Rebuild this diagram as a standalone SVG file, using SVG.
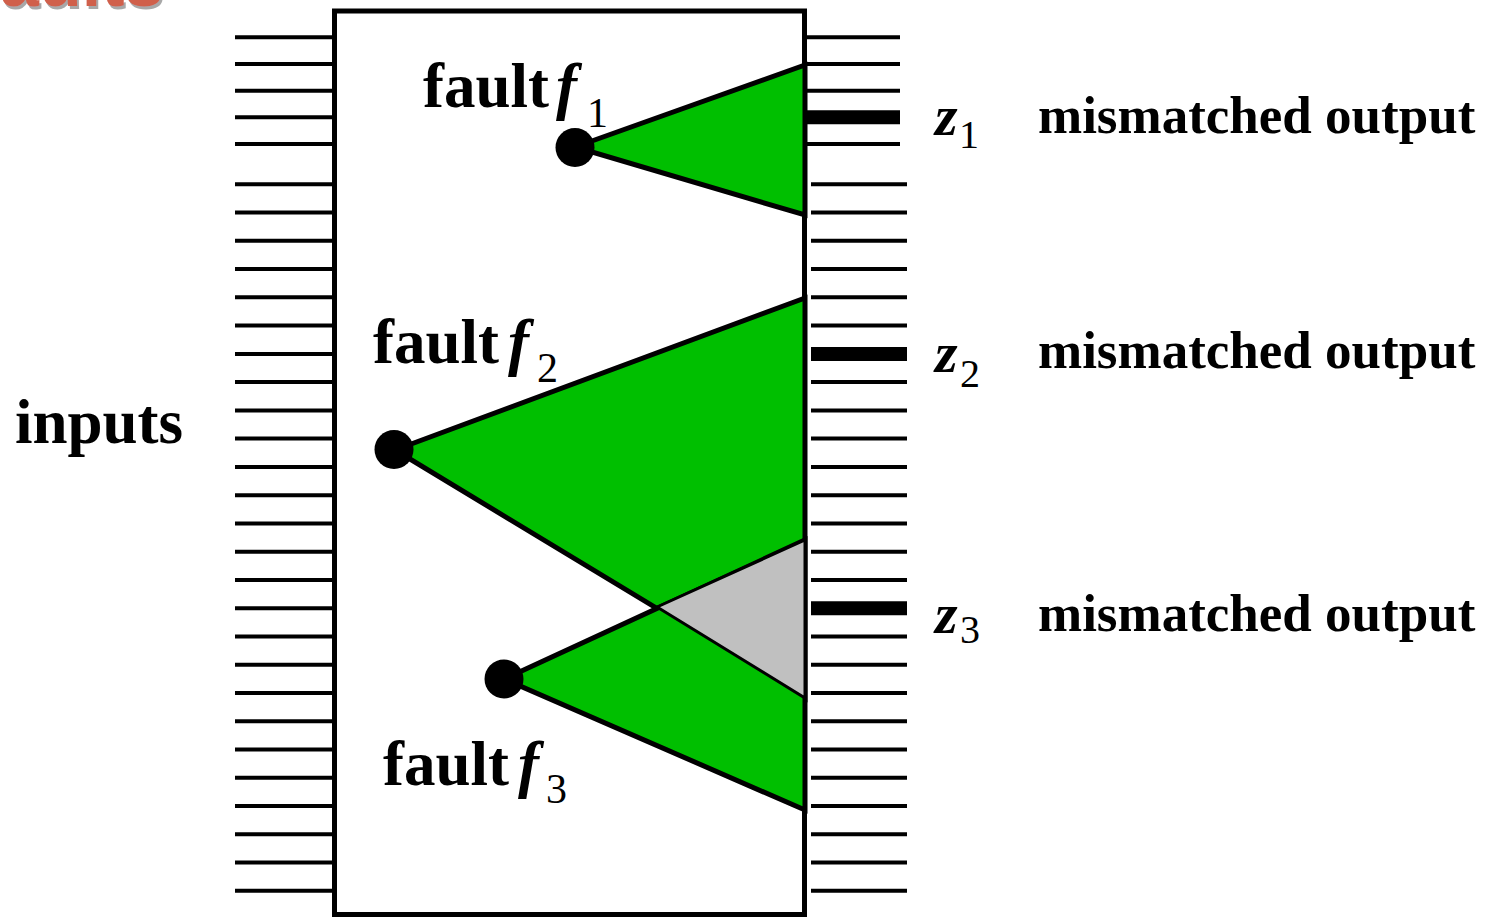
<svg xmlns="http://www.w3.org/2000/svg" width="1486" height="919" viewBox="0 0 1486 919">
<defs>
<filter id="shadow" x="-10%" y="-10%" width="130%" height="150%">
<feFlood flood-color="#a8a8a8" result="c"/>
<feComposite in="c" in2="SourceAlpha" operator="in" result="s"/>
<feOffset in="s" dx="2" dy="3" result="o"/>
<feMerge><feMergeNode in="o"/><feMergeNode in="SourceGraphic"/></feMerge>
</filter>
</defs>
<style>
.wire{stroke:#000;stroke-width:4;}
.thick{stroke:#000;stroke-width:14;}
.cone{fill:#00bf00;stroke:#000;stroke-width:5;stroke-linejoin:miter;}
.overlap{fill:#c0c0c0;stroke:#000;stroke-width:3;}
.lbl{font-family:'Liberation Serif',serif;font-weight:bold;fill:#000;}
.it{font-family:'Liberation Serif',serif;font-style:italic;font-weight:bold;fill:#000;}
.sub{font-family:'Liberation Serif',serif;font-weight:normal;fill:#000;}
</style>
<rect width="1486" height="919" fill="#fff"/>
<g id="title">
<text x="0" y="6" font-family="'Liberation Sans',sans-serif" font-weight="bold" font-size="70" fill="#d0604c" filter="url(#shadow)">aults</text>
</g>
<g id="connectors">
<g id="inputs-wires">
<line class="wire" x1="235" y1="37.3" x2="332" y2="37.3"/>
<line class="wire" x1="235" y1="64" x2="332" y2="64"/>
<line class="wire" x1="235" y1="90.7" x2="332" y2="90.7"/>
<line class="wire" x1="235" y1="117.3" x2="332" y2="117.3"/>
<line class="wire" x1="235" y1="144" x2="332" y2="144"/>
<line class="wire" x1="235" y1="184.3" x2="332" y2="184.3"/>
<line class="wire" x1="235" y1="212.6" x2="332" y2="212.6"/>
<line class="wire" x1="235" y1="240.8" x2="332" y2="240.8"/>
<line class="wire" x1="235" y1="269.1" x2="332" y2="269.1"/>
<line class="wire" x1="235" y1="297.3" x2="332" y2="297.3"/>
<line class="wire" x1="235" y1="325.6" x2="332" y2="325.6"/>
<line class="wire" x1="235" y1="353.9" x2="332" y2="353.9"/>
<line class="wire" x1="235" y1="382.1" x2="332" y2="382.1"/>
<line class="wire" x1="235" y1="410.4" x2="332" y2="410.4"/>
<line class="wire" x1="235" y1="438.6" x2="332" y2="438.6"/>
<line class="wire" x1="235" y1="466.9" x2="332" y2="466.9"/>
<line class="wire" x1="235" y1="495.2" x2="332" y2="495.2"/>
<line class="wire" x1="235" y1="523.4" x2="332" y2="523.4"/>
<line class="wire" x1="235" y1="551.7" x2="332" y2="551.7"/>
<line class="wire" x1="235" y1="579.9" x2="332" y2="579.9"/>
<line class="wire" x1="235" y1="608.2" x2="332" y2="608.2"/>
<line class="wire" x1="235" y1="636.5" x2="332" y2="636.5"/>
<line class="wire" x1="235" y1="664.7" x2="332" y2="664.7"/>
<line class="wire" x1="235" y1="693" x2="332" y2="693"/>
<line class="wire" x1="235" y1="721.2" x2="332" y2="721.2"/>
<line class="wire" x1="235" y1="749.5" x2="332" y2="749.5"/>
<line class="wire" x1="235" y1="777.8" x2="332" y2="777.8"/>
<line class="wire" x1="235" y1="806" x2="332" y2="806"/>
<line class="wire" x1="235" y1="834.3" x2="332" y2="834.3"/>
<line class="wire" x1="235" y1="862.5" x2="332" y2="862.5"/>
<line class="wire" x1="235" y1="890.8" x2="332" y2="890.8"/>
</g>
<g id="output-wires">
<line class="wire" x1="807" y1="37.3" x2="900" y2="37.3"/>
<line class="wire" x1="807" y1="64" x2="900" y2="64"/>
<line class="wire" x1="807" y1="90.7" x2="900" y2="90.7"/>
<line class="thick" x1="807" y1="117.3" x2="900" y2="117.3"/>
<line class="wire" x1="807" y1="144" x2="900" y2="144"/>
<line class="wire" x1="811" y1="184.3" x2="907" y2="184.3"/>
<line class="wire" x1="811" y1="212.6" x2="907" y2="212.6"/>
<line class="wire" x1="811" y1="240.8" x2="907" y2="240.8"/>
<line class="wire" x1="811" y1="269.1" x2="907" y2="269.1"/>
<line class="wire" x1="811" y1="297.3" x2="907" y2="297.3"/>
<line class="wire" x1="811" y1="325.6" x2="907" y2="325.6"/>
<line class="thick" x1="811" y1="353.9" x2="907" y2="353.9"/>
<line class="wire" x1="811" y1="382.1" x2="907" y2="382.1"/>
<line class="wire" x1="811" y1="410.4" x2="907" y2="410.4"/>
<line class="wire" x1="811" y1="438.6" x2="907" y2="438.6"/>
<line class="wire" x1="811" y1="466.9" x2="907" y2="466.9"/>
<line class="wire" x1="811" y1="495.2" x2="907" y2="495.2"/>
<line class="wire" x1="811" y1="523.4" x2="907" y2="523.4"/>
<line class="wire" x1="811" y1="551.7" x2="907" y2="551.7"/>
<line class="wire" x1="811" y1="579.9" x2="907" y2="579.9"/>
<line class="thick" x1="811" y1="608.2" x2="907" y2="608.2"/>
<line class="wire" x1="811" y1="636.5" x2="907" y2="636.5"/>
<line class="wire" x1="811" y1="664.7" x2="907" y2="664.7"/>
<line class="wire" x1="811" y1="693" x2="907" y2="693"/>
<line class="wire" x1="811" y1="721.2" x2="907" y2="721.2"/>
<line class="wire" x1="811" y1="749.5" x2="907" y2="749.5"/>
<line class="wire" x1="811" y1="777.8" x2="907" y2="777.8"/>
<line class="wire" x1="811" y1="806" x2="907" y2="806"/>
<line class="wire" x1="811" y1="834.3" x2="907" y2="834.3"/>
<line class="wire" x1="811" y1="862.5" x2="907" y2="862.5"/>
<line class="wire" x1="811" y1="890.8" x2="907" y2="890.8"/>
</g>
</g>
<g id="circuit">
<rect x="334.5" y="11" width="470" height="903.5" fill="none" stroke="#000" stroke-width="5"/>
</g>
<g id="cone-f2">
<polygon class="cone" points="395,450 805,298 805,698"/>
</g>
<g id="cone-f3">
<polygon class="cone" points="504,679 805,540 805,810"/>
</g>
<g id="overlap">
<polygon class="overlap" points="657,607 805,540 805,698"/>
</g>
<g id="cone-f1">
<polygon class="cone" points="575,147 805,65 805,215"/>
</g>
<g id="fault-f1">
<circle cx="575" cy="147.5" r="19.5" fill="#000"/>
<text class="lbl" x="423" y="107" font-size="63">fault</text>
<text class="it" x="556" y="107" font-size="63">f</text>
<text class="sub" x="587" y="127" font-size="42">1</text>
</g>
<g id="fault-f2">
<circle cx="394" cy="449.5" r="19.5" fill="#000"/>
<text class="lbl" x="373" y="363" font-size="63">fault</text>
<text class="it" x="508" y="363" font-size="63">f</text>
<text class="sub" x="537" y="382" font-size="42">2</text>
</g>
<g id="fault-f3">
<circle cx="504" cy="679" r="19.5" fill="#000"/>
<text class="lbl" x="383" y="785" font-size="63">fault</text>
<text class="it" x="518" y="785" font-size="63">f</text>
<text class="sub" x="546" y="803" font-size="42">3</text>
</g>
<g id="inputs">
<text class="lbl" x="15" y="443" font-size="63">inputs</text>
</g>
<g id="output-z1">
<text class="it" x="935" y="135" font-size="58">z</text>
<text class="sub" x="959" y="148" font-size="40">1</text>
<text class="lbl" x="1038" y="133" font-size="53">mismatched output</text>
</g>
<g id="output-z2">
<text class="it" x="935" y="372" font-size="58">z</text>
<text class="sub" x="960" y="387" font-size="40">2</text>
<text class="lbl" x="1038" y="368" font-size="53">mismatched output</text>
</g>
<g id="output-z3">
<text class="it" x="935" y="633" font-size="58">z</text>
<text class="sub" x="960" y="643" font-size="40">3</text>
<text class="lbl" x="1038" y="631" font-size="53">mismatched output</text>
</g>
</svg>
